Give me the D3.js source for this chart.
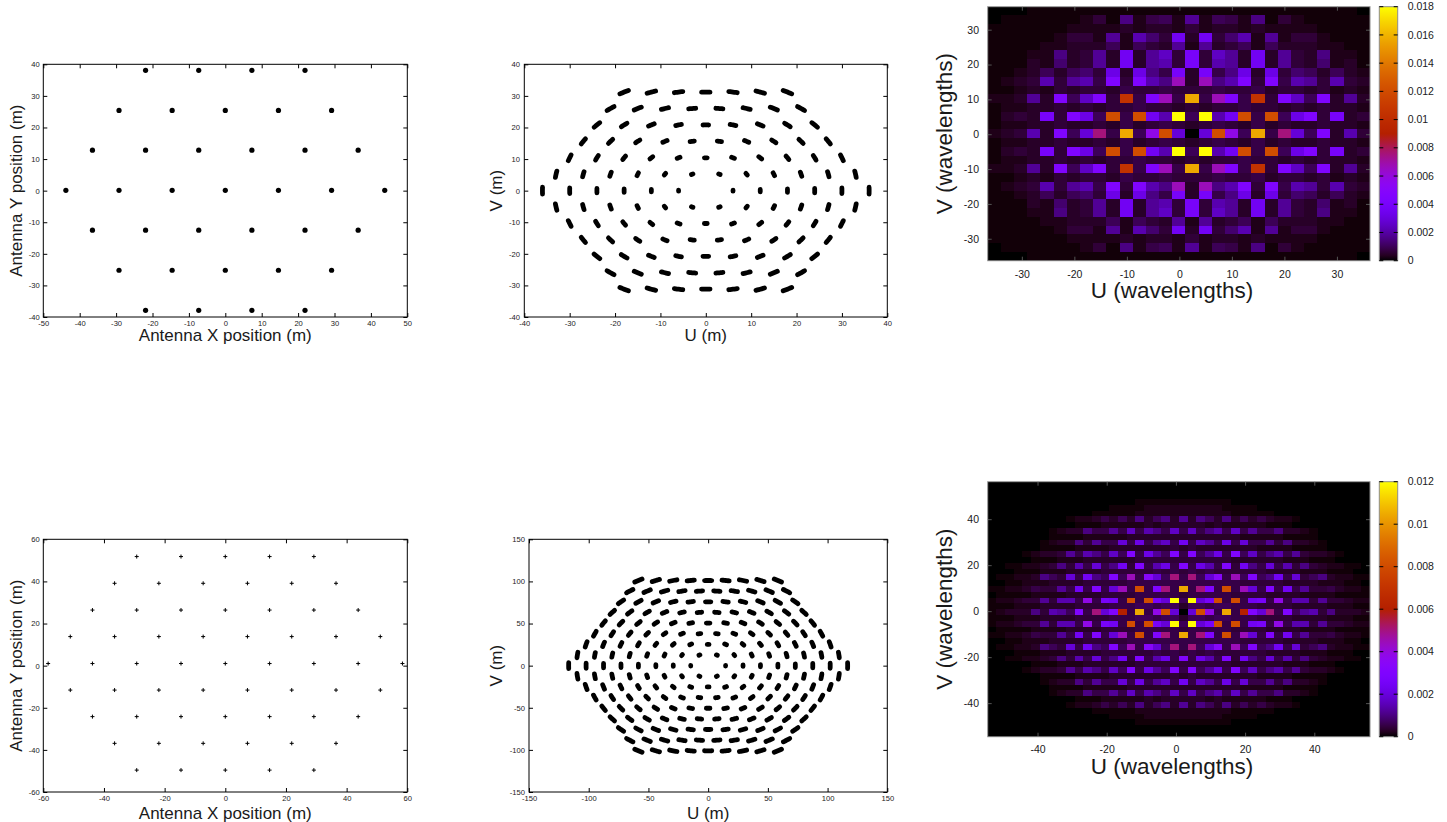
<!DOCTYPE html>
<html>
<head>
<meta charset="utf-8">
<title>antenna layouts and uv coverage</title>
<script src="https://cdn.jsdelivr.net/npm/d3@7"></script>
<style>
  body { margin: 0; background: #ffffff; }
  text { font-family: "Liberation Sans", Arial, Helvetica, sans-serif; fill: #1a1a1a; }
</style>
</head>
<body>
<div id="figure"></div>
<script>
// antenna positions (m), small hexagonal array (37 dishes)
var antSmallX = [-21.9, -7.3, 7.3, 21.9,
  -29.2, -14.6, 0, 14.6, 29.2,
  -36.5, -21.9, -7.3, 7.3, 21.9, 36.5,
  -43.8, -29.2, -14.6, 0, 14.6, 29.2, 43.8,
  -36.5, -21.9, -7.3, 7.3, 21.9, 36.5,
  -29.2, -14.6, 0, 14.6, 29.2,
  -21.9, -7.3, 7.3, 21.9];
var antSmallY = [38.1, 38.1, 38.1, 38.1,
  25.4, 25.4, 25.4, 25.4, 25.4,
  12.8, 12.8, 12.8, 12.8, 12.8, 12.8,
  0.1, 0.1, 0.1, 0.1, 0.1, 0.1, 0.1,
  -12.5, -12.5, -12.5, -12.5, -12.5, -12.5,
  -25.2, -25.2, -25.2, -25.2, -25.2,
  -37.9, -37.9, -37.9, -37.9];

// antenna positions (m), large hexagonal array (61 dishes)
var antLargeX = [-29.2, -14.6, 0, 14.6, 29.2,
  -36.5, -21.9, -7.3, 7.3, 21.9, 36.5,
  -43.8, -29.2, -14.6, 0, 14.6, 29.2, 43.8,
  -51.1, -36.5, -21.9, -7.3, 7.3, 21.9, 36.5, 51.1,
  -58.4, -43.8, -29.2, -14.6, 0, 14.6, 29.2, 43.8, 58.4,
  -51.1, -36.5, -21.9, -7.3, 7.3, 21.9, 36.5, 51.1,
  -43.8, -29.2, -14.6, 0, 14.6, 29.2, 43.8,
  -36.5, -21.9, -7.3, 7.3, 21.9, 36.5,
  -29.2, -14.6, 0, 14.6, 29.2];
var antLargeY = [51.8, 51.8, 51.8, 51.8, 51.8,
  39.1, 39.1, 39.1, 39.1, 39.1, 39.1,
  26.4, 26.4, 26.4, 26.4, 26.4, 26.4, 26.4,
  13.8, 13.8, 13.8, 13.8, 13.8, 13.8, 13.8, 13.8,
  1.0, 1.0, 1.0, 1.0, 1.0, 1.0, 1.0, 1.0, 1.0,
  -11.6, -11.6, -11.6, -11.6, -11.6, -11.6, -11.6, -11.6,
  -24.2, -24.2, -24.2, -24.2, -24.2, -24.2, -24.2,
  -36.9, -36.9, -36.9, -36.9, -36.9, -36.9,
  -49.6, -49.6, -49.6, -49.6, -49.6];

// uv track centres, small array: one v per row, list of u per row
var uvSmallV = [31.2, 26, 20.8, 15.6, 10.4, 5.2, 0, -5.2, -10.4, -15.6, -20.8, -26, -31.2];
var uvSmallU = [
  [-18, -12, -6, 0, 6, 12, 18],
  [-21, -15, -9, -3, 3, 9, 15, 21],
  [-24, -18, -12, -6, 0, 6, 12, 18, 24],
  [-27, -21, -15, -9, -3, 3, 9, 15, 21, 27],
  [-30, -24, -18, -12, -6, 0, 6, 12, 18, 24, 30],
  [-33, -27, -21, -15, -9, -3, 3, 9, 15, 21, 27, 33],
  [-36, -30, -24, -18, -12, -6, 6, 12, 18, 24, 30, 36],
  [-33, -27, -21, -15, -9, -3, 3, 9, 15, 21, 27, 33],
  [-30, -24, -18, -12, -6, 0, 6, 12, 18, 24, 30],
  [-27, -21, -15, -9, -3, 3, 9, 15, 21, 27],
  [-24, -18, -12, -6, 0, 6, 12, 18, 24],
  [-21, -15, -9, -3, 3, 9, 15, 21],
  [-18, -12, -6, 0, 6, 12, 18]
];

// uv track centres, large array
var uvRow8 = [-58.4, -43.8, -29.2, -14.6, 0, 14.6, 29.2, 43.8, 58.4];
var uvRow7 = [-65.7, -51.1, -36.5, -21.9, -7.3, 7.3, 21.9, 36.5, 51.1, 65.7];
var uvRow6 = [-73, -58.4, -43.8, -29.2, -14.6, 0, 14.6, 29.2, 43.8, 58.4, 73];
var uvRow5 = [-80.3, -65.7, -51.1, -36.5, -21.9, -7.3, 7.3, 21.9, 36.5, 51.1, 65.7, 80.3];
var uvRow4 = [-87.6, -73, -58.4, -43.8, -29.2, -14.6, 0, 14.6, 29.2, 43.8, 58.4, 73, 87.6];
var uvRow3 = [-94.9, -80.3, -65.7, -51.1, -36.5, -21.9, -7.3, 7.3, 21.9, 36.5, 51.1, 65.7, 80.3, 94.9];
var uvRow2 = [-102.2, -87.6, -73, -58.4, -43.8, -29.2, -14.6, 0, 14.6, 29.2, 43.8, 58.4, 73, 87.6, 102.2];
var uvRow1 = [-109.5, -94.9, -80.3, -65.7, -51.1, -36.5, -21.9, -7.3, 7.3, 21.9, 36.5, 51.1, 65.7, 80.3, 94.9, 109.5];
var uvRow0 = [-116.8, -102.2, -87.6, -73, -58.4, -43.8, -29.2, -14.6, 14.6, 29.2, 43.8, 58.4, 73, 87.6, 102.2, 116.8];
var uvLargeV = [101.1, 88.5, 75.8, 63.2, 50.6, 37.9, 25.3, 12.6, 0,
  -12.6, -25.3, -37.9, -50.6, -63.2, -75.8, -88.5, -101.1];
var uvLargeU = [uvRow8, uvRow7, uvRow6, uvRow5, uvRow4, uvRow3, uvRow2, uvRow1, uvRow0,
  uvRow1, uvRow2, uvRow3, uvRow4, uvRow5, uvRow6, uvRow7, uvRow8];

// gridded uv maps: one character per cell, value = levelPct / 100 * colour-bar max
var levelKey = "0123456789abcdefghijklmnopq";
var levelPct = [0, 0.5, 1.5, 2.5, 3.5, 4.5, 5.5, 7, 8.5, 10,
  12, 14, 16, 18, 20, 22, 25, 28, 32, 37, 42, 50, 58, 67, 77, 87, 100];

var heatSmallMax = 0.018;
var heatSmallExtent = { u: [-36.5, 36.3], v: [-36.3, 36.6] };
var heatSmallRows = [
  "00011111111111111111111111110",
  "01111112418256292652814211111",
  "11111122223233242332322221111",
  "11111244292a74e3e47a292442111",
  "11112233362643929346263332211",
  "1112283493e39b4f4b93e39438221",
  "1113273493e39a4f4a93e39437231",
  "112363674d3d85f3f58d3d4763632",
  "1234a49a5g4ga8j3j8ag4g5a94a43",
  "11232434435445444544534434232",
  "22393g6bg4m5gj5p5jg5m4gb6g393",
  "12233434344544343445443434332",
  "1343f4gd6n5neaq6qaen5n6dg4f34",
  "12233433435345434543534334332",
  "234a3g6ck5p6inc0cni6p5kc6g3a4",
  "12233433435345434543534334332",
  "1343f4gd6n5neaq6qaen5n6dg4f34",
  "12233434344544343445443434332",
  "22393g6bg4m5gj5p5jg5m4gb6g393",
  "11232434435445444544534434232",
  "1234a49a5g4ga8j3j8ag4g5a94a43",
  "112363674d3d85f3f58d3d4763632",
  "1113273493e39a4f4a93e39437231",
  "1112283493e39b4f4b93e39438221",
  "11112233362643929346263332211",
  "11111244292a74e3e47a292442111",
  "11111122223233242332322221111",
  "01111112418256292652814211111",
  "00011111111111111111111111110"
];

var heatLargeMax = 0.012;
var heatLargeExtent = { u: [-54.4, 56.1], v: [-54.6, 56.3] };
var heatLargeRows = [
  "00000000000000000000000000000000000000000000",
  "00000000000000000000000000000000000000000000",
  "00000000000000000000000000000000000000000000",
  "00000000000000000111111111110000000000000000",
  "00000000000000111122222222211110000000000000",
  "00000000000011111222222222221111100000000000",
  "00000000012235363836839386383635322100000000",
  "00000000001112222232333332322222111000000000",
  "0000000123385595b5a85b5b58a5b595583321000000",
  "00000001111222223333333333333222221111000000",
  "000000123384955c5d59b5e5b95d5c55948332100000",
  "00000011112222333333343433333332222111100000",
  "00001233495a85b6g5d96g5g69d5g6b58a5943321000",
  "00000111222333333444444444443333332221110000",
  "0011223484a5c58e4g5ad5g5da5g4e85c5a484322110",
  "00011122233334444445454545444444333322211100",
  "011223864c5e86g6j5hc6k5k6ch5j6g68e5c46832211",
  "00112223333444445555555555555444443333222110",
  "1122354495e5g5cj5n5gk5p5kg5n5jc5g5e594453221",
  "01111222233334444555554555554444333322221111",
  "12234494aa5i5fe5n5nfcq6qcfn5n5ef5i5aa4944322",
  "11122233334444555665663665665554444333322211",
  "1233384a96g5kcgl5p5inc0cni5p5lgck5g69a483332",
  "11122233334444555665663665665554444333322211",
  "12234494aa5i5fe5n5nfcq6qcfn5n5ef5i5aa4944322",
  "01111222233334444555554555554444333322221111",
  "1122354495e5g5cj5n5gk5p5kg5n5jc5g5e594453221",
  "00112223333444445555555555555444443333222110",
  "011223864c5e86g6j5hc6k5k6ch5j6g68e5c46832211",
  "00011122233334444445454545444444333322211100",
  "0011223484a5c58e4g5ad5g5da5g4e85c5a484322110",
  "00000111222333333444444444443333332221110000",
  "00001233495a85b6g5d96g5g69d5g6b58a5943321000",
  "00000011112222333333343433333332222111100000",
  "000000123384955c5d59b5e5b95d5c55948332100000",
  "00000001111222223333333333333222221111000000",
  "0000000123385595b5a85b5b58a5b595583321000000",
  "00000000001112222232333332322222111000000000",
  "00000000012235363836839386383635322100000000",
  "00000000000011111222222222221111100000000000",
  "00000000000000111122222222211110000000000000",
  "00000000000000000111111111110000000000000000",
  "00000000000000000000000000000000000000000000",
  "00000000000000000000000000000000000000000000"
];

// tick values
var ticksA_x = [-50, -40, -30, -20, -10, 0, 10, 20, 30, 40, 50];
var ticksA_y = [-40, -30, -20, -10, 0, 10, 20, 30, 40];
var ticksB = [-40, -30, -20, -10, 0, 10, 20, 30, 40];
var ticksD = [-60, -40, -20, 0, 20, 40, 60];
var ticksE = [-150, -100, -50, 0, 50, 100, 150];
var ticksC = [-30, -20, -10, 0, 10, 20, 30];
var ticksF = [-40, -20, 0, 20, 40];
var cbSmallTicks = [0, 0.002, 0.004, 0.006, 0.008, 0.01, 0.012, 0.014, 0.016, 0.018];
var cbLargeTicks = [0, 0.002, 0.004, 0.006, 0.008, 0.01, 0.012];

var svg = d3.select("#figure").append("svg")
  .attr("width", 1447)
  .attr("height", 822);

// plot boxes (page pixels)
var boxA = { l: 43.3, r: 407.3, t: 64.3, b: 317 };
var boxB = { l: 524.3, r: 887.3, t: 64.3, b: 317 };
var boxC = { l: 987.7, r: 1370, t: 6.7, b: 260.7 };
var boxD = { l: 43.3, r: 407.3, t: 539.3, b: 792 };
var boxE = { l: 529, r: 887.3, t: 539.3, b: 792 };
var boxF = { l: 987.7, r: 1370, t: 481.7, b: 736.7 };
var cbX = [1379.3, 1397.7];

var fmt = function (d) { return String(d); };

// gnuplot default palette (rgbformulae 7,5,15)
function palette(t) {
  t = Math.max(0, Math.min(1, t));
  var r = Math.sqrt(t), g = t * t * t, b = Math.max(0, Math.sin(2 * Math.PI * t));
  return d3.rgb(Math.round(r * 255), Math.round(g * 255), Math.round(b * 255)).formatHex();
}

function axes(box, xs, ys, xt, yt, o) {
  var gb = svg.append("g").attr("transform", `translate(0,${box.b})`)
    .call(d3.axisBottom(xs).tickValues(xt).tickSize(-o.tick).tickPadding(o.padX).tickFormat(fmt));
  var gt = svg.append("g").attr("transform", `translate(0,${box.t})`)
    .call(d3.axisTop(xs).tickValues(xt).tickSize(-o.tick).tickFormat(""));
  var gl = svg.append("g").attr("transform", `translate(${box.l},0)`)
    .call(d3.axisLeft(ys).tickValues(yt).tickSize(-o.tick).tickPadding(o.padY).tickFormat(fmt));
  var gr = svg.append("g").attr("transform", `translate(${box.r},0)`)
    .call(d3.axisRight(ys).tickValues(yt).tickSize(-o.tick).tickFormat(""));
  [gb, gt, gl, gr].forEach(function (g) {
    g.select(".domain").remove();
    g.attr("font-size", o.fs + "px");
    g.selectAll("line").attr("stroke", o.tickColor);
    g.selectAll("text").style("fill", "#1a1a1a");
  });
}

function frame(box, color) {
  svg.append("rect")
    .attr("x", box.l).attr("y", box.t)
    .attr("width", box.r - box.l).attr("height", box.b - box.t)
    .attr("fill", "none").attr("stroke", color).attr("stroke-width", 1);
}

function labels(box, xText, yText, o) {
  svg.append("text")
    .attr("x", o.xCx != null ? o.xCx : (box.l + box.r) / 2)
    .attr("y", o.xBase)
    .attr("text-anchor", "middle")
    .style("font-size", o.fs + "px")
    .text(xText);
  svg.append("text")
    .attr("transform", `translate(${o.yBase},${o.yCy != null ? o.yCy : (box.t + box.b) / 2}) rotate(-90)`)
    .attr("text-anchor", "middle")
    .style("font-size", o.fs + "px")
    .text(yText);
}

var smallAxis = { fs: 7.6, tick: 4, padX: 4, padY: 3.5, tickColor: "#000" };

// ---------- antenna layout, small array ----------
var xA = d3.scaleLinear().domain([-50, 50]).range([boxA.l, boxA.r]);
var yA = d3.scaleLinear().domain([-40, 40]).range([boxA.b, boxA.t]);
frame(boxA, "#000");
axes(boxA, xA, yA, ticksA_x, ticksA_y, smallAxis);
svg.append("g").selectAll("circle")
  .data(antSmallX)
  .join("circle")
  .attr("cx", d => xA(d))
  .attr("cy", (d, i) => yA(antSmallY[i]))
  .attr("r", 2.6)
  .attr("fill", "#000");
labels(boxA, "Antenna X position (m)", "Antenna Y position (m)", { fs: 17, xBase: 341, yBase: 22 });

// uv tracks: short arcs of earth rotation around each baseline
var arcHalf = 0.03;
function track(u, v) {
  return d3.range(-arcHalf, arcHalf + 1e-9, arcHalf / 3).map(function (a) {
    return [u * Math.cos(a) - v * Math.sin(a), u * Math.sin(a) + v * Math.cos(a)];
  });
}
function drawTracks(xs, ys, vRows, uRows) {
  var pts = [];
  vRows.forEach(function (v, i) {
    uRows[i].forEach(function (u) { pts.push({ u: u, v: v }); });
  });
  var line = d3.line().x(d => xs(d[0])).y(d => ys(d[1]));
  svg.append("g").selectAll("path")
    .data(pts)
    .join("path")
    .attr("d", d => line(track(d.u, d.v)))
    .attr("fill", "none")
    .attr("stroke", "#000")
    .attr("stroke-width", 4.8)
    .attr("stroke-linecap", "round");
}

// ---------- uv coverage, small array ----------
var xB = d3.scaleLinear().domain([-40, 40]).range([boxB.l, boxB.r]);
var yB = d3.scaleLinear().domain([-40, 40]).range([boxB.b, boxB.t]);
frame(boxB, "#000");
axes(boxB, xB, yB, ticksB, ticksB, { fs: 7.6, tick: 4, padX: 4, padY: 4.3, tickColor: "#000" });
drawTracks(xB, yB, uvSmallV, uvSmallU);
labels(boxB, "U (m)", "V (m)", { fs: 17, xBase: 341, yBase: 502 });

// ---------- antenna layout, large array ----------
var xD = d3.scaleLinear().domain([-60, 60]).range([boxD.l, boxD.r]);
var yD = d3.scaleLinear().domain([-60, 60]).range([boxD.b, boxD.t]);
frame(boxD, "#000");
axes(boxD, xD, yD, ticksD, ticksD, smallAxis);
var plus = svg.append("g").attr("stroke", "#000").attr("stroke-width", 1);
antLargeX.forEach(function (d, i) {
  var cx = xD(d), cy = yD(antLargeY[i]);
  plus.append("path").attr("d", `M${cx - 2},${cy}H${cx + 2}M${cx},${cy - 2}V${cy + 2}`);
});
labels(boxD, "Antenna X position (m)", "Antenna Y position (m)", { fs: 17, xBase: 818.5, yBase: 22 });

// ---------- uv coverage, large array ----------
var xE = d3.scaleLinear().domain([-150, 150]).range([boxE.l, boxE.r]);
var yE = d3.scaleLinear().domain([-150, 150]).range([boxE.b, boxE.t]);
frame(boxE, "#000");
axes(boxE, xE, yE, ticksE, ticksE, { fs: 7.6, tick: 4, padX: 4, padY: 4, tickColor: "#000" });
drawTracks(xE, yE, uvLargeV, uvLargeU);
labels(boxE, "U (m)", "V (m)", { fs: 17, xBase: 818.5, yBase: 502 });

// ---------- gridded uv maps with colour bars ----------
function heatmap(box, ext, rows, max, ticks, cbTicks, lab) {
  var xs = d3.scaleLinear().domain(ext.u).range([box.l, box.r]);
  var ys = d3.scaleLinear().domain(ext.v).range([box.b, box.t]);
  var nr = rows.length, nc = rows[0].length;
  var du = (ext.u[1] - ext.u[0]) / nc, dv = (ext.v[1] - ext.v[0]) / nr;
  var cells = [];
  rows.forEach(function (row, i) {
    if (row.length !== nc) {
      svg.append("text").attr("x", 700).attr("y", 420 + i * 12).style("fill", "red").text("bad row " + i + " len " + row.length);
    }
    row.split("").forEach(function (ch, j) {
      cells.push({ i: i, j: j, val: levelPct[levelKey.indexOf(ch)] / 100 * max });
    });
  });
  svg.append("g").attr("shape-rendering", "crispEdges").selectAll("rect")
    .data(cells)
    .join("rect")
    .attr("x", d => Math.round(xs(ext.u[0] + d.j * du)))
    .attr("width", d => Math.round(xs(ext.u[0] + (d.j + 1) * du)) - Math.round(xs(ext.u[0] + d.j * du)))
    .attr("y", d => Math.round(ys(ext.v[1] - d.i * dv)))
    .attr("height", d => Math.round(ys(ext.v[1] - (d.i + 1) * dv)) - Math.round(ys(ext.v[1] - d.i * dv)))
    .attr("fill", d => palette(d.val / max));
  axes(box, xs, ys, ticks, ticks, { fs: 10.5, tick: 4, padX: lab.tickPad, padY: 8.7, tickColor: "#555" });
  frame(box, "#8c8c8c");

  // colour bar
  var gid = "cb" + Math.round(box.t);
  var grad = svg.append("defs").append("linearGradient")
    .attr("id", gid).attr("x1", 0).attr("y1", 1).attr("x2", 0).attr("y2", 0);
  d3.range(0, 1.0001, 0.02).forEach(function (t) {
    grad.append("stop").attr("offset", t).attr("stop-color", palette(t));
  });
  svg.append("rect")
    .attr("x", cbX[0]).attr("y", box.t)
    .attr("width", cbX[1] - cbX[0]).attr("height", box.b - box.t)
    .attr("fill", `url(#${gid})`)
    .attr("stroke", "#8c8c8c").attr("stroke-width", 1);
  var cs = d3.scaleLinear().domain([0, max]).range([box.b, box.t]);
  var cg = svg.append("g");
  cbTicks.forEach(function (v) {
    cg.append("line").attr("x1", cbX[1] - 4).attr("x2", cbX[1]).attr("y1", cs(v)).attr("y2", cs(v)).attr("stroke", "#000");
    cg.append("line").attr("x1", cbX[0]).attr("x2", cbX[0] + 4).attr("y1", cs(v)).attr("y2", cs(v)).attr("stroke", "#000");
    cg.append("text").attr("x", 1407.7).attr("y", cs(v)).attr("dy", "0.35em")
      .style("font-size", "10.5px").text(fmt(v));
  });
  labels(box, "U (wavelengths)", "V (wavelengths)", lab);
}

heatmap(boxC, heatSmallExtent, heatSmallRows, heatSmallMax, ticksC, cbSmallTicks,
  { fs: 22.5, xBase: 298, yBase: 952, xCx: 1172, tickPad: 9.5 });
heatmap(boxF, heatLargeExtent, heatLargeRows, heatLargeMax, ticksF, cbLargeTicks,
  { fs: 22.5, xBase: 773.5, yBase: 952, xCx: 1172, tickPad: 8.8 });
</script>
</body>
</html>
